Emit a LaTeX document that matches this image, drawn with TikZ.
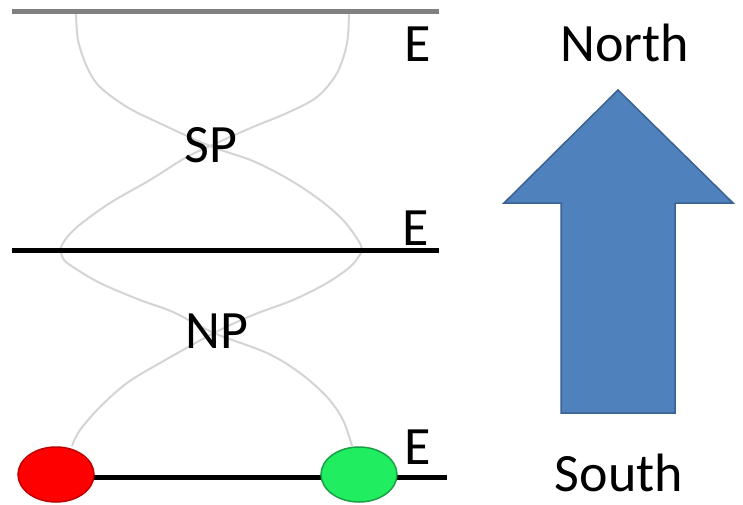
\documentclass[tikz,border=0pt]{standalone}
\usepackage{fontspec}
\setmainfont{Carlito}
\usetikzlibrary{shapes.geometric}
\definecolor{arrowfill}{HTML}{4F81BD}
\definecolor{arrowline}{HTML}{3A6190}
\definecolor{curvegray}{HTML}{D4D4D4}
\definecolor{topgray}{HTML}{808080}
\definecolor{redfill}{HTML}{FF0000}
\definecolor{redline}{HTML}{C00000}
\definecolor{greenfill}{RGB}{32,238,96}
\definecolor{greenline}{RGB}{25,160,70}
\begin{document}
\begin{tikzpicture}[x=1pt,y=-1pt,
  lbl/.style={font=\fontsize{54}{60}\selectfont, inner sep=0pt, anchor=base},
  level/.style={line width=5pt},
  strand/.style={curvegray, line width=2pt},
  pole/.style={ellipse, minimum width=76pt, minimum height=55pt, inner sep=0pt, line width=1.5pt}]
\useasboundingbox (0,0) rectangle (743,505);

% field-line strands
\draw[strand] plot[smooth, tension=0.55] coordinates {
  (76,12) (78,40) (87,67) (100,87) (127,107) (157,122) (210,146) (253,161)
  (290,180) (320,200) (343,220) (358,240) (362,250) (359,256) (350,267)
  (327,283) (293,300) (253,315) (214,333) (160,363) (127,383) (100,407)
  (80,430) (72,446)};
\draw[strand] plot[smooth, tension=0.55] coordinates {
  (349,12) (347,43) (337,73) (317,97) (287,113) (253,127) (210,146) (185,158)
  (150,180) (110,203) (77,227) (63,243) (61,252) (64,260) (73,267)
  (100,283) (140,300) (173,312) (214,333) (267,353) (300,373) (327,397)
  (343,420) (352,446)};

% levels
\coordinate (t1) at (12,12);
\coordinate (t2) at (439,12);
\coordinate (m1) at (12,250);
\coordinate (m2) at (439,250);
\coordinate (b1) at (56,477);
\coordinate (b2) at (447,477);
\draw[level, topgray] (t1) -- (t2);
\draw[level] (m1) -- (m2);
\draw[level] (b1) -- (b2);

% poles
\node[pole, draw=redline, fill=redfill] (red) at (56,474.5) {};
\node[pole, draw=greenline, fill=greenfill] (green) at (359,474.5) {};

% labels
\node[lbl] (e1) at (418,62) {E};
\node[lbl] (e2) at (416,245) {E};
\node[lbl] (e3) at (418,464) {E};
\node[lbl] (sp) at (211,163) {SP};
\node[lbl] (np) at (217,348) {NP};
\node[lbl] (north) at (624.5,62) {North};
\node[lbl] (south) at (619,491) {South};

% arrow
\draw[arrowline, fill=arrowfill, line width=1.5pt]
  (618,90) -- (733,203) -- (675,203) -- (675,413) -- (561,413) -- (561,203) -- (504,203) -- cycle;
\end{tikzpicture}
\end{document}
